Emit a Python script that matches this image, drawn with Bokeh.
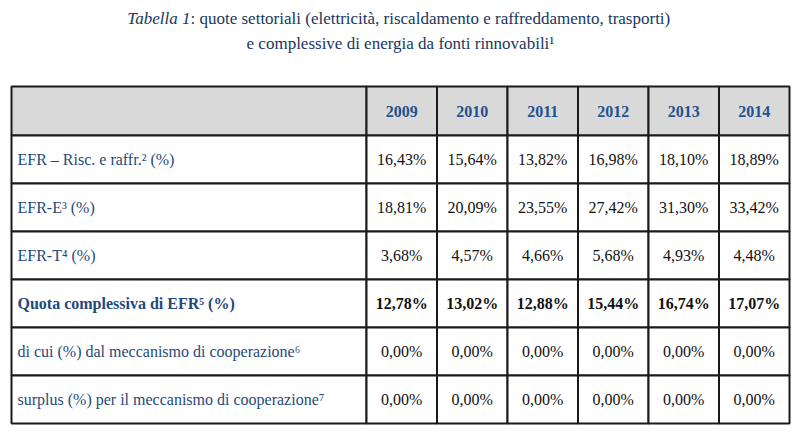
from bokeh.plotting import figure
from bokeh.models import Range1d
from bokeh.embed import file_html
from bokeh.resources import INLINE
from bokeh.core.properties import value

# ---------------- data ----------------
years = ["2009", "2010", "2011", "2012", "2013", "2014"]
row_labels = [
    "EFR – Risc. e raffr.² (%)",
    "EFR-E³ (%)",
    "EFR-T⁴ (%)",
    "Quota complessiva di EFR⁵ (%)",
    "di cui (%) dal meccanismo di cooperazione⁶",
    "surplus (%) per il meccanismo di cooperazione⁷",
]
efr_risc = [16.43, 15.64, 13.82, 16.98, 18.10, 18.89]
efr_e = [18.81, 20.09, 23.55, 27.42, 31.30, 33.42]
efr_t = [3.68, 4.57, 4.66, 5.68, 4.93, 4.48]
quota_efr = [12.78, 13.02, 12.88, 15.44, 16.74, 17.07]
coop = [0.00, 0.00, 0.00, 0.00, 0.00, 0.00]
surplus = [0.00, 0.00, 0.00, 0.00, 0.00, 0.00]
bold_rows = [False, False, False, True, False, False]
title_italic = "Tabella 1"
title_rest = ": quote settoriali (elettricità, riscaldamento e raffreddamento, trasporti)"
title_line2 = "e complessive di energia da fonti rinnovabili¹"

series = [efr_risc, efr_e, efr_t, quota_efr, coop, surplus]


def fmt(v):
    return f"{v:.2f}".replace(".", ",") + "%"


# ---------------- layout / style ----------------
FONT = "Liberation Serif"
LEFT = 11.0
LABEL_W = 355.0
COL_W = 70.5
TOP = 86.0
HEADER_H = 49.0
ROW_H = 48.0
FS = "16px"
TITLE_FS = "17px"
TITLE_COLOR = "#17375E"
LABEL_COLOR = "#1F4A7A"
YEAR_COLOR = "#1F5290"
VALUE_COLOR = "#111111"
HEADER_FILL = "#D9D9D9"
GRID_COLOR = "#1A1A1A"
W, H = 792, 428

p = figure(width=W, height=H, output_backend="svg", toolbar_location=None,
           x_range=Range1d(0, W), y_range=Range1d(H, 0), min_border=0)
p.axis.visible = False
p.grid.visible = False
p.outline_line_color = None
p.background_fill_color = "white"
p.border_fill_color = "white"

# column / row edges
x_edges = [LEFT, LEFT + LABEL_W] + [LEFT + LABEL_W + COL_W * (i + 1) for i in range(len(years))]
y_edges = [TOP, TOP + HEADER_H] + [TOP + HEADER_H + ROW_H * (i + 1) for i in range(len(row_labels))]

# cells
cl, cr, ct, cb, cf = [], [], [], [], []
for r in range(len(y_edges) - 1):
    for c in range(len(x_edges) - 1):
        cl.append(x_edges[c]); cr.append(x_edges[c + 1])
        ct.append(y_edges[r]); cb.append(y_edges[r + 1])
        cf.append(HEADER_FILL if r == 0 else "white")
p.quad(left=cl, right=cr, top=ct, bottom=cb, fill_color=cf,
       line_color=GRID_COLOR, line_width=2)

# header years
xc = [(x_edges[i + 1] + x_edges[i + 2]) / 2 for i in range(len(years))]
yh = (y_edges[0] + y_edges[1]) / 2
p.text(x=xc, y=[yh] * len(years), text=years, text_font=value(FONT),
       text_font_size=FS, text_font_style="bold", text_color=YEAR_COLOR,
       text_align="center", text_baseline="middle")

# rows
for r, (lab, vals, b) in enumerate(zip(row_labels, series, bold_rows)):
    yc = (y_edges[r + 1] + y_edges[r + 2]) / 2
    style = "bold" if b else "normal"
    p.text(x=[LEFT + 6], y=[yc], text=[lab], text_font=value(FONT),
           text_font_size=FS, text_font_style=style, text_color=LABEL_COLOR,
           text_align="left", text_baseline="middle")
    p.text(x=xc, y=[yc] * len(vals), text=[fmt(v) for v in vals],
           text_font=value(FONT), text_font_size=FS, text_font_style=style,
           text_color=VALUE_COLOR, text_align="center", text_baseline="middle")

# title
SPLIT_X = 190
p.text(x=[SPLIT_X], y=[18], text=[title_italic], text_font=value(FONT),
       text_font_size=TITLE_FS, text_font_style="italic", text_color=TITLE_COLOR,
       text_align="right", text_baseline="middle")
p.text(x=[SPLIT_X], y=[18], text=[title_rest], text_font=value(FONT),
       text_font_size=TITLE_FS, text_color=TITLE_COLOR,
       text_align="left", text_baseline="middle")
p.text(x=[400], y=[43], text=[title_line2], text_font=value(FONT),
       text_font_size=TITLE_FS, text_color=TITLE_COLOR,
       text_align="center", text_baseline="middle")

open("out.html", "w").write(file_html(p, INLINE))
